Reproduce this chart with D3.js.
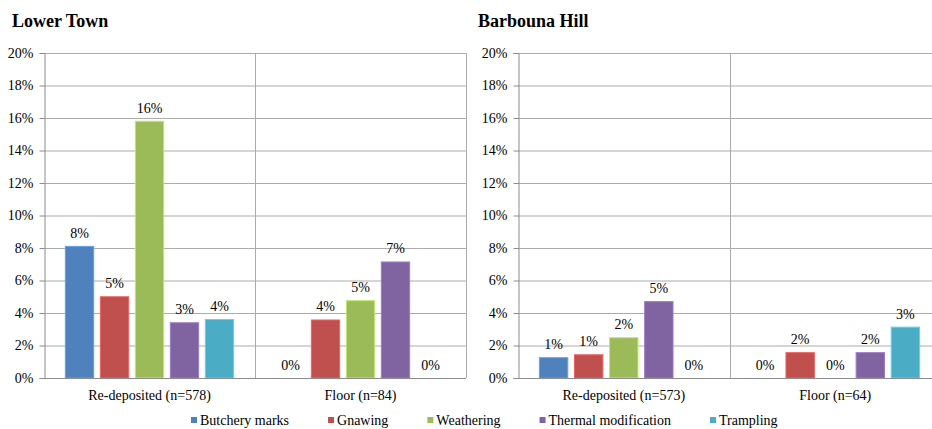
<!DOCTYPE html>
<html><head><meta charset="utf-8">
<script src="https://cdn.jsdelivr.net/npm/d3@7"></script>
<style>body{margin:0;background:#fff}svg{display:block}</style>
</head><body><svg id="c" width="932" height="429"></svg>
<script>
const series = ["Butchery marks","Gnawing","Weathering","Thermal modification","Trampling"];
const colors = ["#4F81BD","#C0504D","#9BBB59","#8064A2","#4BACC6"];
const panelTitles = ["Lower Town","Barbouna Hill"];
const lowerCats = ["Re-deposited (n=578)","Floor (n=84)"];
const barbounaCats = ["Re-deposited (n=573)","Floor (n=64)"];
// values in percent, order = series
const lowerRedeposited = [8.1, 5.0, 15.8, 3.4, 3.6];
const lowerFloor = [0, 3.57, 4.76, 7.14, 0];
const barbounaRedeposited = [1.25, 1.43, 2.48, 4.7, 0];
const barbounaFloor = [0, 1.56, 0, 1.56, 3.13];
const yTicks = [0,2,4,6,8,10,12,14,16,18,20];

(function(){
const FONT = "'Liberation Serif', 'DejaVu Serif', serif";
const svg = d3.select("#c").attr("font-family", FONT);
const panels = [
  {title: panelTitles[0], cats: lowerCats, vals: [lowerRedeposited, lowerFloor], x0: 44, x1: 466, tx: 12},
  {title: panelTitles[1], cats: barbounaCats, vals: [barbounaRedeposited, barbounaFloor], x0: 518, x1: 941, tx: 478}
];
const plotTop = 53, plotBottom = 378;
const y = d3.scaleLinear().domain([0,20]).range([plotBottom, plotTop]);
const fmt = v => d3.format(".0%")(v/100);

panels.forEach(p => {
  const g = svg.append("g");
  g.append("text").attr("x", p.tx).attr("y", 27).attr("font-size", 18).attr("font-weight", "bold").attr("font-family", FONT).text(p.title);
  const x = d3.scaleBand().domain(p.cats).range([p.x0, p.x1]).padding(0);
  const xi = d3.scaleBand().domain(series).range([0, x.bandwidth()]).paddingInner(0.19).paddingOuter(0.61);
  g.selectAll("line.h").data(yTicks.filter(t => t > 0)).enter().append("line")
    .attr("x1", p.x0).attr("x2", p.x1).attr("y1", d => y(d)+0.5).attr("y2", d => y(d)+0.5)
    .attr("stroke", "#ABABAB").attr("stroke-width", 1);
  p.cats.forEach(c => {
    const xv = Math.round(x(c)+x.bandwidth())+0.5;
    g.append("line").attr("x1", xv).attr("x2", xv)
      .attr("y1", plotTop).attr("y2", plotBottom).attr("stroke", "#ABABAB");
  });
  const ya = d3.axisLeft(y).tickValues(yTicks).tickFormat(d => d + "%").tickSize(5).tickPadding(6);
  const ag = g.append("g").attr("transform", `translate(${p.x0+0.5},0)`).call(ya);
  ag.attr("font-family", FONT).attr("font-size", 14);
  ag.selectAll("text").attr("fill", "#000");
  ag.selectAll("line,path").attr("stroke", "#8C8C8C");
  p.cats.forEach((c, ci) => {
    const vals = p.vals[ci];
    const bg = g.append("g").attr("transform", `translate(${x(c)},0)`);
    bg.selectAll("rect").data(vals).enter().append("rect")
      .attr("x", (d,i) => xi(series[i])).attr("width", xi.bandwidth())
      .attr("y", d => y(d)).attr("height", d => plotBottom - y(d))
      .attr("fill", (d,i) => colors[i])
      .attr("stroke", (d,i) => d > 0 ? d3.color(colors[i]).brighter(0.6) : "none").attr("stroke-width", 1);
    bg.selectAll("text").data(vals).enter().append("text")
      .attr("x", (d,i) => xi(series[i]) + xi.bandwidth()/2).attr("y", d => y(d) - 8.5)
      .attr("text-anchor", "middle").attr("font-size", 14).text(d => fmt(d));
    g.append("text").attr("x", x(c) + x.bandwidth()/2).attr("y", 400).attr("text-anchor", "middle")
      .attr("font-size", 14).text(c);
  });
  g.append("line").attr("x1", p.x0).attr("x2", p.x1).attr("y1", plotBottom+0.5).attr("y2", plotBottom+0.5).attr("stroke", "#8C8C8C");
});

const lg = svg.append("g");
let lx = 191;
series.forEach((s, i) => {
  const it = lg.append("g").attr("transform", `translate(${lx},0)`);
  it.append("rect").attr("x", 0).attr("y", 417).attr("width", 6).attr("height", 6).attr("fill", colors[i]);
  const t = it.append("text").attr("x", 9).attr("y", 425).attr("font-size", 14).text(s);
  lx += 9 + t.node().getComputedTextLength() + 39;
});
})();
</script></body></html>
